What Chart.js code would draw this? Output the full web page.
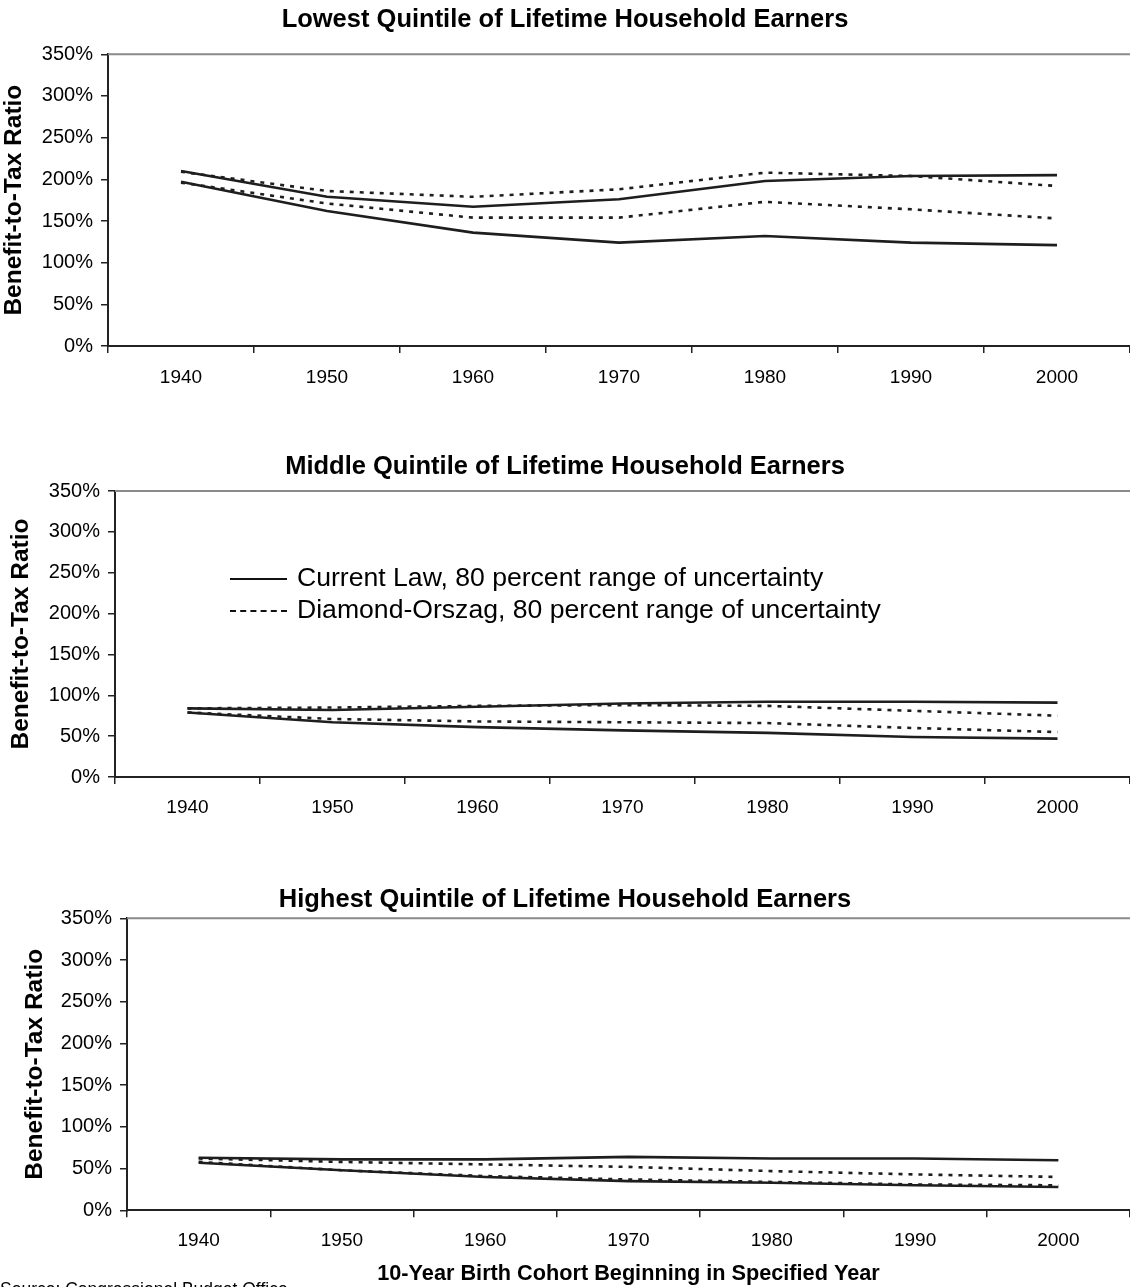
<!DOCTYPE html>
<html>
<head>
<meta charset="utf-8">
<script src="https://cdn.jsdelivr.net/npm/chart.js@4.4.1/dist/chart.umd.min.js"></script>
<style>
body { margin: 0; width: 1130px; height: 1287px; overflow: hidden; background: #fff; position: relative;
       font-family: "Liberation Sans", Arial, sans-serif; color: #000; }
.box { position: absolute; left: 0; width: 1130px; }
.leg { position: absolute; left: 230px; font-size: 26.6px; line-height: 30px; white-space: nowrap; }
.leg span.ln { display: inline-block; width: 57px; vertical-align: middle; margin-right: 10px; }
#src { position: absolute; left: 0; top: 1279px; font-size: 17.5px; white-space: nowrap; }
</style>
</head>
<body>
<div class="box" style="top:0px;height:410px"><canvas id="c1" width="1130" height="410"></canvas></div>
<div class="box" style="top:420px;height:420px"><canvas id="c2" width="1130" height="420"></canvas></div>
<div class="box" style="top:850px;height:435px"><canvas id="c3" width="1130" height="435"></canvas></div>

<div class="leg" style="top:562px"><span class="ln" style="border-top:2px solid #111"></span>Current Law, 80 percent range of uncertainty</div>
<div class="leg" style="top:594px"><span class="ln" style="border-top:2px dashed #111"></span>Diamond-Orszag, 80 percent range of uncertainty</div>
<div id="src">Source: Congressional Budget Office</div>

<script>
// birth cohorts
var years = ['1940', '1950', '1960', '1970', '1980', '1990', '2000'];

// lowest quintile (%)
var lowCurrentHigh = [210, 179, 167, 176, 198, 204, 205];
var lowCurrentLow  = [197, 162, 136, 124, 132, 124, 121];
var lowDiamondHigh = [209, 186, 179, 188, 208, 204, 192];
var lowDiamondLow  = [196, 171, 154, 154, 173, 164, 153];

// middle quintile (%)
var midCurrentHigh = [84, 82, 86, 90, 92, 92, 91];
var midCurrentLow  = [79, 67, 61, 57, 54, 49, 47];
var midDiamondHigh = [84, 85, 87, 88, 87, 81, 75];
var midDiamondLow  = [79, 71, 68, 67, 66, 60, 55];

// highest quintile (%)
var highCurrentHigh = [63, 61, 61, 64, 62, 62, 60];
var highCurrentLow  = [57, 48, 40, 35, 33, 30, 28];
var highDiamondHigh = [62, 58, 55, 52, 47, 43, 40];
var highDiamondLow  = [58, 48, 41, 37, 34, 31, 30];

var FONT = "'Liberation Sans', Arial, sans-serif";

var topLine = {
    id: 'topLine',
    afterDraw: function (chart) {
        var ctx = chart.ctx, a = chart.chartArea;
        ctx.save();
        ctx.strokeStyle = '#8a8a8a';
        ctx.lineWidth = 2;
        ctx.beginPath();
        ctx.moveTo(a.left, a.top);
        ctx.lineTo(a.right, a.top);
        ctx.stroke();
        ctx.restore();
    }
};

function line(data, dashed) {
    return {
        data: data,
        borderColor: '#1e1e1e',
        borderWidth: 2.6,
        borderDash: dashed ? [4, 6] : [],
        pointRadius: 0,
        tension: 0,
        fill: false
    };
}

function makeChart(id, title, sets, o) {
    var xScale = {
        offset: true,
        grid: { display: true, drawOnChartArea: false, drawTicks: true, tickLength: 7, offset: true, color: '#222', lineWidth: 1.5 },
        border: { display: true, color: '#222', width: 2 },
        ticks: { color: '#000', padding: o.xPad, font: { family: FONT, size: 19 } }
    };
    if (o.xTitle) {
        xScale.title = { display: true, text: o.xTitle, color: '#000', padding: 0,
                         font: { family: FONT, size: 21.7, weight: 'bold', lineHeight: 1 } };
    }
    return new Chart(document.getElementById(id), {
        type: 'line',
        data: {
            labels: years,
            datasets: [line(sets[0], false), line(sets[1], false), line(sets[2], true), line(sets[3], true)]
        },
        options: {
            responsive: false,
            animation: false,
            devicePixelRatio: 1,
            layout: { padding: { left: 0, right: 0, top: 0, bottom: o.padBottom } },
            plugins: {
                legend: { display: false },
                tooltip: { enabled: false },
                title: {
                    display: true, text: title, color: '#000',
                    padding: { top: o.tTop, bottom: o.tBottom },
                    font: { family: FONT, size: 25.5, weight: 'bold' }
                }
            },
            scales: {
                x: xScale,
                y: {
                    min: 0, max: 350,
                    afterFit: function (s) { s.width = o.left; },
                    grid: { display: true, drawOnChartArea: false, drawTicks: true, tickLength: 7, color: '#222', lineWidth: 1.5 },
                    border: { display: true, color: '#222', width: 2 },
                    ticks: { stepSize: 50, color: '#000', padding: 8, font: { family: FONT, size: 20 },
                             callback: function (v) { return v + '%'; } },
                    title: { display: true, text: 'Benefit-to-Tax Ratio', color: '#000', padding: { top: o.yTitlePad, bottom: 0 },
                             font: { family: FONT, size: 24.5, weight: 'bold' } }
                }
            }
        },
        plugins: [topLine]
    });
}

makeChart('c1', 'Lowest Quintile of Lifetime Household Earners',
    [lowCurrentHigh, lowCurrentLow, lowDiamondHigh, lowDiamondLow],
    { left: 108, tTop: 4.7, tBottom: 19, padBottom: 7, xPad: 13.6, yTitlePad: 0 });

makeChart('c2', 'Middle Quintile of Lifetime Household Earners',
    [midCurrentHigh, midCurrentLow, midDiamondHigh, midDiamondLow],
    { left: 115, tTop: 31.7, tBottom: 8.7, padBottom: 8, xPad: 12.6, yTitlePad: 7 });

makeChart('c3', 'Highest Quintile of Lifetime Household Earners',
    [highCurrentHigh, highCurrentLow, highDiamondHigh, highDiamondLow],
    { left: 127, tTop: 34.7, tBottom: 3, padBottom: 0, xPad: 11.6, yTitlePad: 21,
      xTitle: '10-Year Birth Cohort Beginning in Specified Year' });
</script>
</body>
</html>
